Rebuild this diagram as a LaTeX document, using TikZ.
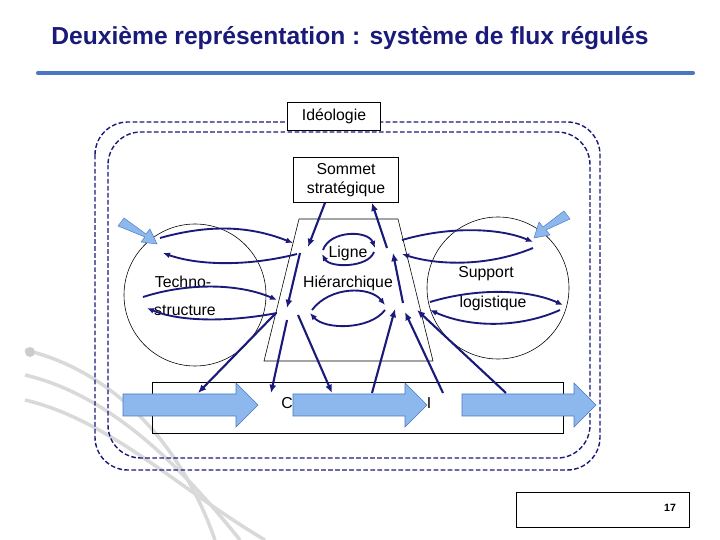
\documentclass[tikz,border=0pt]{standalone}
\usepackage{fontspec}
\setmainfont{Liberation Sans}
\usetikzlibrary{arrows.meta,positioning}
\definecolor{navy}{HTML}{1A1A7A}
\definecolor{flow}{HTML}{8DB8EE}
\definecolor{flowedge}{HTML}{4A78C0}
\tikzset{
  lbl/.style={font=\fontsize{13.5}{16}\selectfont},
  box/.style={draw, line width=0.6pt, fill=white, align=center, lbl, inner sep=1pt},
  fl/.style={navy, line width=1.8pt, -{Latex[length=7pt,width=6pt]}},
  lp/.style={navy, line width=1.6pt, -{Latex[length=6pt,width=5pt]}},
  frame/.style={navy, line width=1.2pt, dash pattern=on 4pt off 2pt, rounded corners=28pt}
}
% block arrow: x start, x end, y middle
\newcommand{\bigarr}[3]{\filldraw[fill=flow, draw=flowedge, line width=0.5pt]
  (#1,#3-11) -- (#2-22,#3-11) -- (#2-22,#3-22) -- (#2,#3) -- (#2-22,#3+22) -- (#2-22,#3+11) -- (#1,#3+11) -- cycle;}
\begin{document}
\begin{tikzpicture}[x=0.03cm, y=-0.03cm]
\useasboundingbox (0,0) rectangle (720,540);
% background decoration
\foreach \d in {0,25,50}
  \draw[gray!30, line width=3pt] (25,350+\d) .. controls (110,370+\d) and (180,440+\d) .. (215+\d,540);
\fill[gray!40] (30,352) circle (5);
% title
\node[font=\fontsize{21}{24}\selectfont\bfseries, text=navy] (title) at (350,38) {Deuxième représentation : système de flux régulés};
\draw[line width=3.5pt, draw=flowedge, line cap=round] (38,73) -- (693,73);
% frame
\draw[frame] (95,122) rectangle (600,470);
\draw[frame] (108,132) rectangle (590,458);
\node[box, minimum width=94*0.85pt, minimum height=28*0.85pt] (ideo) at (334,116) {Idéologie};
% parts
\draw[line width=0.5pt] (299,219) -- (398,219) -- (433,361) -- (264,361) -- cycle;
\draw[line width=0.5pt] (195,295) circle (71);
\draw[line width=0.5pt] (498,288) circle (71);
\draw[line width=0.6pt] (152,382) rectangle (563,433);
\node[box, minimum width=106*0.85pt, minimum height=45*0.85pt] (sommet) at (346,180) {Sommet\\stratégique};
\node[lbl] (techno) at (183,282) {Techno-};
\node[lbl] (struct) at (185,310) {structure};
\node[lbl] (hier) at (348,283) {Hiérarchique};
\node[lbl] (ligne) at (348,253) {Ligne};
\node[lbl] (supp) at (486,274) {Support};
\node[lbl] (logi) at (493,303) {logistique};
\node[lbl] (ctext) at (287,403) {C};
\node[lbl] (itext) at (429,403) {I};
% flows of the operating core
\bigarr{123}{258}{405}
\bigarr{293}{427}{405}
\bigarr{462}{596}{405}
% inputs to the support parts
\draw[flowedge, fill=flow, line width=0.4pt] (118,226) -- (124,218) -- (146,234) -- (150,229) -- (157,244) -- (141,242) -- (145,237) -- cycle;
\draw[flowedge, fill=flow, line width=0.4pt] (570,219) -- (564,211) -- (543,227) -- (539,222) -- (534,238) -- (550,235) -- (546,230) -- cycle;
% loops
\draw[lp] (160,238) .. controls (210,224) and (250,226) .. (293,243);
\draw[lp] (297,254) .. controls (250,266) and (200,266) .. (163,253);
\draw[lp] (143,297) .. controls (190,282) and (240,284) .. (277,300);
\draw[lp] (277,313) .. controls (230,322) and (180,322) .. (147,308);
\draw[lp] (402,240) .. controls (450,226) and (500,228) .. (533,242);
\draw[lp] (533,248) .. controls (490,266) and (440,266) .. (402,254);
\draw[lp] (430,302) .. controls (480,287) and (530,290) .. (563,305);
\draw[lp] (560,310) .. controls (520,328) and (470,328) .. (430,310);
\draw[lp] (312,310) .. controls (330,286) and (370,286) .. (385,305);
\draw[lp] (385,310) .. controls (370,330) and (325,330) .. (310,313);
\draw[lp] (323,250) .. controls (330,230) and (368,230) .. (375,248);
\draw[lp] (374,252) .. controls (368,268) and (330,268) .. (322,254);
% vertical flows
\draw[fl] (sommet.south) ++(-21,0) -- (308,247);
\draw[fl] (387,248) -- ([xshift=26*0.85pt]sommet.south);
\draw[fl] (300,253) -- (287,308);
\draw[fl] (403,303) -- (393,253);
\draw[fl] (276,313) -- (198,393);
\draw[fl] (287,320) -- (271,393);
\draw[fl] (298,315) -- (332,393);
\draw[fl] (372,393) -- (395,309);
\draw[fl] (443,393) -- (405,312);
\draw[fl] (506,393) -- (417,310);
% page number
\node[draw, line width=0.5pt, minimum width=174*0.85pt, minimum height=35*0.85pt] (page) at (603,510) {};
\node[font=\fontsize{9}{10}\selectfont\bfseries, anchor=east] (num) at (680,508) {17};
\end{tikzpicture}
\end{document}
